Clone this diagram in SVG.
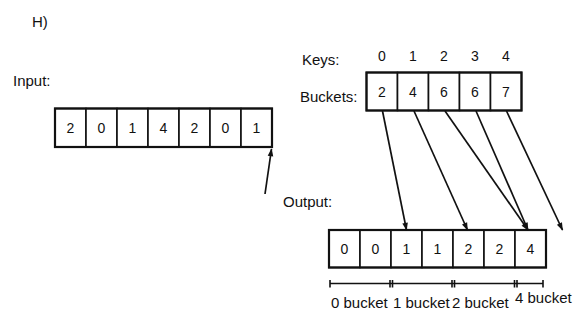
<svg xmlns="http://www.w3.org/2000/svg" width="581" height="321" viewBox="0 0 581 321">
<defs>
<style>
.lbl{font-family:"Liberation Sans",Arial,sans-serif;font-size:15px;fill:#111}
.dig{font-family:"Liberation Sans",Arial,sans-serif;font-size:14px;fill:#111;text-anchor:middle}
.cell{fill:#fff;stroke:#111;stroke-width:1.6}
.frame{fill:none;stroke:#111;stroke-width:2.2}
.arr{stroke:#111;stroke-width:1.7;fill:none;marker-end:url(#ah)}
.rng{stroke:#111;stroke-width:1.6;fill:none}
</style>
<marker id="ah" viewBox="0 0 10 10" refX="9" refY="5" markerWidth="10" markerHeight="8" markerUnits="userSpaceOnUse" orient="auto">
<path d="M0,1.5 L10,5 L0,8.5 Z" fill="#111"/>
</marker>
</defs>
<rect width="581" height="321" fill="#fff"/>
<text class="lbl" x="32" y="27">H)</text>
<text class="lbl" x="13" y="86">Input:</text>
<text class="lbl" x="302" y="65">Keys:</text>
<text class="lbl" x="300" y="101.5">Buckets:</text>
<text class="lbl" x="283" y="207">Output:</text>

<g id="input">
<rect class="cell" x="55" y="108.5" width="31" height="38.5"/>
<rect class="cell" x="86" y="108.5" width="31" height="38.5"/>
<rect class="cell" x="117" y="108.5" width="31" height="38.5"/>
<rect class="cell" x="148" y="108.5" width="31" height="38.5"/>
<rect class="cell" x="179" y="108.5" width="31" height="38.5"/>
<rect class="cell" x="210" y="108.5" width="31" height="38.5"/>
<rect class="cell" x="241" y="108.5" width="31" height="38.5"/>
<rect class="frame" x="55" y="108.5" width="217" height="38.5"/>
<text class="dig" x="70.5" y="132.5">2</text>
<text class="dig" x="101.5" y="132.5">0</text>
<text class="dig" x="132.5" y="132.5">1</text>
<text class="dig" x="163.5" y="132.5">4</text>
<text class="dig" x="194.5" y="132.5">2</text>
<text class="dig" x="225.5" y="132.5">0</text>
<text class="dig" x="256.5" y="132.5">1</text>
</g>

<g id="keys">
<text class="dig" x="382" y="61">0</text>
<text class="dig" x="413" y="61">1</text>
<text class="dig" x="444" y="61">2</text>
<text class="dig" x="475" y="61">3</text>
<text class="dig" x="506" y="61">4</text>
</g>

<g id="buckets">
<rect class="cell" x="366.5" y="72.5" width="31" height="38"/>
<rect class="cell" x="397.5" y="72.5" width="31" height="38"/>
<rect class="cell" x="428.5" y="72.5" width="31" height="38"/>
<rect class="cell" x="459.5" y="72.5" width="31" height="38"/>
<rect class="cell" x="490.5" y="72.5" width="31" height="38"/>
<rect class="frame" x="366.5" y="72.5" width="155" height="38"/>
<text class="dig" x="382" y="96.5">2</text>
<text class="dig" x="413" y="96.5">4</text>
<text class="dig" x="444" y="96.5">6</text>
<text class="dig" x="475" y="96.5">6</text>
<text class="dig" x="506" y="96.5">7</text>
</g>

<g id="output">
<rect class="cell" x="329" y="230" width="31" height="37.5"/>
<rect class="cell" x="360" y="230" width="31" height="37.5"/>
<rect class="cell" x="391" y="230" width="31" height="37.5"/>
<rect class="cell" x="422" y="230" width="31" height="37.5"/>
<rect class="cell" x="453" y="230" width="31" height="37.5"/>
<rect class="cell" x="484" y="230" width="31" height="37.5"/>
<rect class="cell" x="515" y="230" width="31" height="37.5"/>
<rect class="frame" x="329" y="230" width="217" height="37.5"/>
<text class="dig" x="344.5" y="254">0</text>
<text class="dig" x="375.5" y="254">0</text>
<text class="dig" x="406.5" y="254">1</text>
<text class="dig" x="437.5" y="254">1</text>
<text class="dig" x="468.5" y="254">2</text>
<text class="dig" x="499.5" y="254">2</text>
<text class="dig" x="530.5" y="254">4</text>
</g>

<g id="ranges">
<path class="rng" d="M330,283.5 H543 M330,280 V287.5 M390,280 V287.5 M392.5,280 V287.5 M452,280 V287.5 M454.5,280 V287.5 M514.5,280 V287.5 M517,280 V287.5 M543,280 V287.5"/>
<text class="lbl" x="331" y="308">0 bucket</text>
<text class="lbl" x="393" y="308">1 bucket</text>
<text class="lbl" x="452" y="308">2 bucket</text>
<text class="lbl" x="515" y="303">4 bucket</text>
</g>

<g id="connectors">
<line class="arr" x1="265" y1="194" x2="271.5" y2="149"/>
<line class="arr" x1="382.5" y1="111" x2="406.5" y2="230"/>
<line class="arr" x1="414" y1="111" x2="467.5" y2="230"/>
<line class="arr" x1="445" y1="111" x2="528" y2="230"/>
<line class="arr" x1="476" y1="111" x2="528" y2="230"/>
<line class="arr" x1="506.5" y1="111" x2="562.5" y2="230"/>
</g>
</svg>
